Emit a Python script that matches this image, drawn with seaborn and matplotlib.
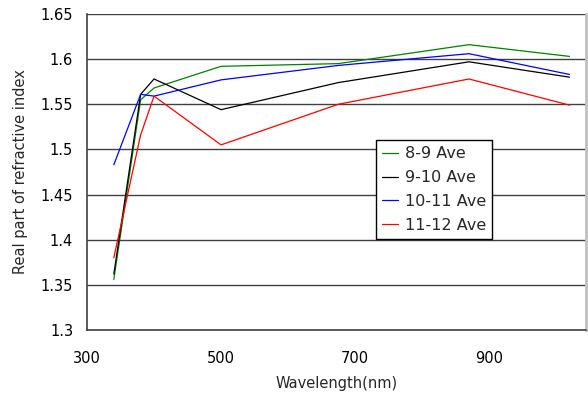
import matplotlib
matplotlib.use('Agg')
import matplotlib.pyplot as plt
import seaborn as sns
import pandas as pd

# 波长 (nm) 和各时段平均折射率实部
wavelength = [340, 380, 400, 500, 675, 870, 1020]
ave_8_9 = [1.356, 1.555, 1.568, 1.592, 1.595, 1.616, 1.603]
ave_9_10 = [1.362, 1.561, 1.578, 1.544, 1.574, 1.597, 1.580]
ave_10_11 = [1.483, 1.561, 1.559, 1.577, 1.593, 1.606, 1.583]
ave_11_12 = [1.380, 1.516, 1.559, 1.505, 1.550, 1.578, 1.549]

labels = ['8-9 Ave', '9-10 Ave', '10-11 Ave', '11-12 Ave']
colors = ['#008000', '#000000', '#0000FF', '#FF0000']

rows = []
for lab, vals in zip(labels, [ave_8_9, ave_9_10, ave_10_11, ave_11_12]):
    for w, v in zip(wavelength, vals):
        rows.append({'wavelength': w, 'value': v, 'series': lab})
df = pd.DataFrame(rows)

sns.set_style('white')
plt.rcParams['font.family'] = ['DejaVu Sans']

fig = plt.figure(figsize=(5.88, 3.99), dpi=100)
ax = fig.add_axes([0.148, 0.173, 0.849, 0.792])

sns.lineplot(data=df, x='wavelength', y='value', hue='series', hue_order=labels,
             palette=colors, linewidth=0.9, ax=ax, zorder=3)

ax.set_xlim(300, 1045)
ax.set_ylim(1.3, 1.65)
ax.set_xticks([300, 500, 700, 900])
ax.set_yticks([1.3, 1.35, 1.4, 1.45, 1.5, 1.55, 1.6, 1.65])
ax.set_yticklabels(['1.3', '1.35', '1.4', '1.45', '1.5', '1.55', '1.6', '1.65'])
ax.yaxis.grid(True, color='#404040', linewidth=1)
ax.set_axisbelow(True)
ax.tick_params(direction='in', length=4, width=1, colors='#404040',
               labelcolor='black', labelsize=10.5)
ax.tick_params(axis='x', pad=15)
ax.tick_params(axis='y', pad=10)

for s in ['left', 'bottom']:
    ax.spines[s].set_color('#404040')
    ax.spines[s].set_linewidth(1.2)
ax.spines['top'].set_visible(False)
ax.spines['right'].set_color('#c0c0c0')
ax.spines['right'].set_linewidth(2)

ax.set_xlabel('Wavelength(nm)', fontsize=10.5, labelpad=7)
ax.set_ylabel('Real part of refractive index', fontsize=10.5, labelpad=9)

leg = ax.legend(loc='upper left', bbox_to_anchor=(0.5786, 0.601), borderaxespad=0,
                fontsize=11.5, frameon=True, fancybox=False, framealpha=1,
                edgecolor='black', handlelength=1.0, handletextpad=0.4,
                labelspacing=0.55, borderpad=0.4)
leg.get_frame().set_linewidth(1)

fig.savefig('out.png', dpi=100)
